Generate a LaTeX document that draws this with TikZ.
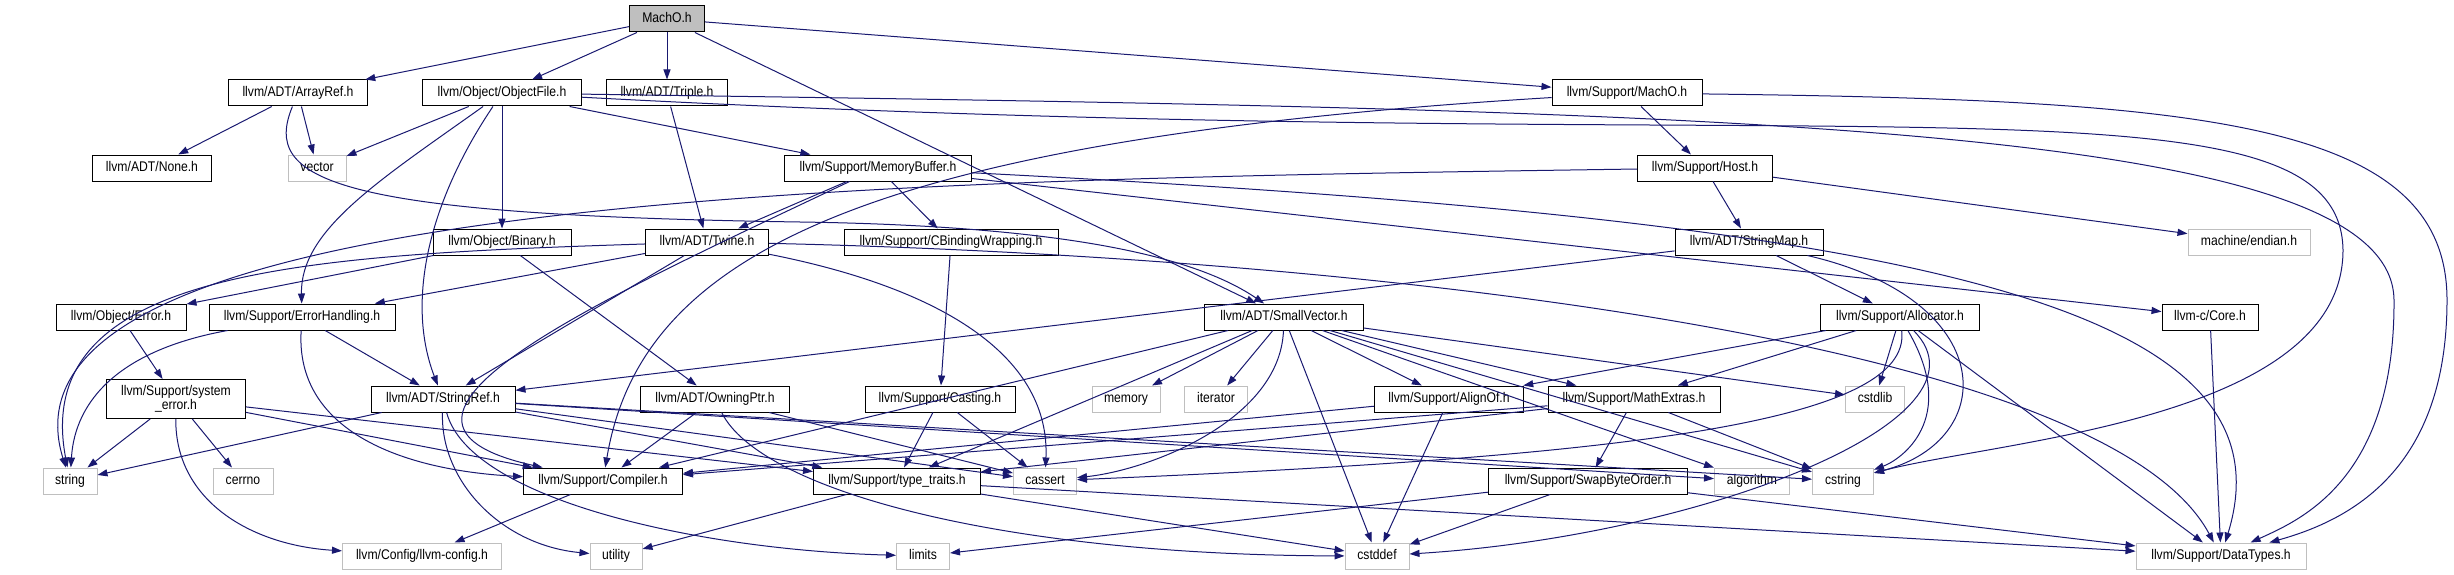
\documentclass[tikz,border=0pt]{standalone}
\usepackage{fontspec}
\setmainfont{Liberation Sans}[FakeStretch=0.87]
\usepackage{xcolor}
\usetikzlibrary{arrows.meta}
\definecolor{edgeblue}{HTML}{191970}
\definecolor{sysgray}{HTML}{BFBFBF}

\begin{document}
\begin{tikzpicture}[x=1pt, y=-1pt, font=\fontsize{14}{15}\selectfont,
  hdr/.style={draw=black, line width=1pt, inner xsep=0pt, minimum height=26pt, text height=10pt, text depth=3pt},
  sys/.style={hdr, draw=sysgray},
  dep/.style={draw=edgeblue, line width=1pt, -{Triangle[length=10pt,width=7pt]}}]
  \useasboundingbox (0,0) rectangle (2454,575);
  \node[hdr, fill=sysgray, minimum width=75pt] (macho) at (667,19) {MachO.h};
  \node[hdr, minimum width=139pt] (arrayref) at (298,93) {llvm/ADT/ArrayRef.h};
  \node[hdr, minimum width=159pt] (objectfile) at (502,93) {llvm/Object/ObjectFile.h};
  \node[hdr, minimum width=121pt] (triple) at (667,93) {llvm/ADT/Triple.h};
  \node[hdr, minimum width=150pt] (supmacho) at (1627,93) {llvm/Support/MachO.h};
  \node[hdr, minimum width=119pt] (none) at (152,168) {llvm/ADT/None.h};
  \node[sys, minimum width=58pt] (vector) at (317,168) {vector};
  \node[hdr, minimum width=187pt] (membuf) at (878,168) {llvm/Support/MemoryBuffer.h};
  \node[hdr, minimum width=135pt] (host) at (1705,168) {llvm/Support/Host.h};
  \node[hdr, minimum width=138pt] (binary) at (502,242) {llvm/Object/Binary.h};
  \node[hdr, minimum width=123pt] (twine) at (707,242) {llvm/ADT/Twine.h};
  \node[hdr, minimum width=214pt] (cbinding) at (951,242) {llvm/Support/CBindingWrapping.h};
  \node[hdr, minimum width=148pt] (stringmap) at (1749,242) {llvm/ADT/StringMap.h};
  \node[sys, minimum width=122pt] (endian) at (2249,242) {machine/endian.h};
  \node[hdr, minimum width=130pt] (objerror) at (121,317) {llvm/Object/Error.h};
  \node[hdr, minimum width=186pt] (errhandling) at (302,317) {llvm/Support/ErrorHandling.h};
  \node[hdr, minimum width=159pt] (smallvector) at (1284,317) {llvm/ADT/SmallVector.h};
  \node[hdr, minimum width=159pt] (allocator) at (1900,317) {llvm/Support/Allocator.h};
  \node[hdr, minimum width=96pt] (core) at (2210,317) {llvm-c/Core.h};
  \node[hdr, minimum width=139pt, minimum height=39pt, text height={}, text depth={}, align=center, inner ysep=1pt, font=\fontsize{14}{14.5}\selectfont] (syserror) at (176,399) {llvm/Support/system\\\_error.h};
  \node[hdr, minimum width=144pt] (stringref) at (443,399) {llvm/ADT/StringRef.h};
  \node[hdr, minimum width=149pt] (owningptr) at (715,399) {llvm/ADT/OwningPtr.h};
  \node[hdr, minimum width=150pt] (casting) at (940,399) {llvm/Support/Casting.h};
  \node[sys, minimum width=68pt] (memory) at (1126,399) {memory};
  \node[sys, minimum width=63pt] (iterator) at (1216,399) {iterator};
  \node[hdr, minimum width=149pt] (alignof) at (1449,399) {llvm/Support/AlignOf.h};
  \node[hdr, minimum width=172pt] (mathextras) at (1634,399) {llvm/Support/MathExtras.h};
  \node[sys, minimum width=59pt] (cstdlib) at (1875,399) {cstdlib};
  \node[sys, minimum width=54pt] (string) at (70,481) {string};
  \node[sys, minimum width=60pt] (cerrno) at (243,481) {cerrno};
  \node[hdr, minimum width=159pt] (compiler) at (603,481) {llvm/Support/Compiler.h};
  \node[hdr, minimum width=167pt] (typetraits) at (897,481) {llvm/Support/type\_traits.h};
  \node[sys, minimum width=63pt] (cassert) at (1045,481) {cassert};
  \node[hdr, minimum width=199pt] (swapbyte) at (1588,481) {llvm/Support/SwapByteOrder.h};
  \node[sys, minimum width=75pt] (algorithm) at (1752,481) {algorithm};
  \node[sys, minimum width=61pt] (cstring) at (1843,481) {cstring};
  \node[sys, minimum width=159pt] (llvmconfig) at (422,556) {llvm/Config/llvm-config.h};
  \node[sys, minimum width=52pt] (utility) at (616,556) {utility};
  \node[sys, minimum width=53pt] (limits) at (923,556) {limits};
  \node[sys, minimum width=64pt] (cstddef) at (1377,556) {cstddef};
  \node[sys, minimum width=170pt] (datatypes) at (2221,556) {llvm/Support/DataTypes.h};

  \foreach \a/\b in {macho/arrayref, macho/objectfile, macho/triple, macho/supmacho, macho/smallvector,
      arrayref/none, arrayref/vector, objectfile/vector, objectfile/binary, objectfile/membuf,
      triple/twine, supmacho/host, host/stringmap, host/endian,
      membuf/twine, membuf/cbinding, membuf/core, binary/objerror, binary/owningptr,
      twine/stringref, twine/errhandling, objerror/syserror, errhandling/stringref,
      syserror/string, syserror/cerrno, syserror/compiler, syserror/typetraits,
      stringref/string, stringref/typetraits, stringref/cassert, stringref/algorithm, stringref/cstring,
      owningptr/compiler, owningptr/cassert, cbinding/casting, casting/typetraits, casting/cassert,
      stringmap/stringref, stringmap/allocator,
      smallvector/memory, smallvector/iterator, smallvector/alignof, smallvector/mathextras,
      smallvector/cstdlib, smallvector/cstddef, smallvector/compiler, smallvector/typetraits,
      smallvector/algorithm, smallvector/cstring,
      allocator/alignof, allocator/mathextras, allocator/cstdlib, allocator/datatypes,
      alignof/compiler, alignof/cstddef, mathextras/compiler, mathextras/swapbyte,
      mathextras/cstring, mathextras/typetraits,
      swapbyte/limits, swapbyte/cstddef, swapbyte/datatypes,
      typetraits/utility, typetraits/cstddef, typetraits/datatypes,
      compiler/llvmconfig, core/datatypes}
    { \draw[dep] (\a) -- (\b); }

  \draw[dep] (arrayref) .. controls (262,180) and (330,215) .. (800,222) .. controls (1080,226) and (1200,260) .. (smallvector);
  \draw[dep] (objectfile) .. controls (380,180) and (300,230) .. (errhandling);
  \draw[dep] (objectfile) .. controls (430,200) and (405,300) .. (stringref);
  \draw[dep] (objectfile) .. controls (1850,165) and (2340,60) .. (2343,250) .. controls (2343,420) and (2000,440) .. (cstring);
  \draw[dep] (objectfile) .. controls (1700,110) and (2392,120) .. (2394,300) .. controls (2395,480) and (2300,520) .. (datatypes);
  \draw[dep] (supmacho) .. controls (850,140) and (640,260) .. (compiler);
  \draw[dep] (supmacho) .. controls (2200,100) and (2447,120) .. (2447,300) .. controls (2447,470) and (2350,520) .. (datatypes);
  \draw[dep] (host) .. controls (900,180) and (-20,190) .. (string);
  \draw[dep] (membuf) .. controls (600,300) and (330,420) .. (compiler);
  \draw[dep] (membuf) .. controls (1900,220) and (2300,300) .. (datatypes);
  \draw[dep] (twine) .. controls (300,255) and (30,270) .. (string);
  \draw[dep] (twine) .. controls (950,290) and (1050,360) .. (cassert);
  \draw[dep] (twine) .. controls (1300,255) and (2100,330) .. (datatypes);
  \draw[dep] (errhandling) .. controls (120,350) and (75,400) .. (string);
  \draw[dep] (errhandling) .. controls (295,430) and (400,470) .. (compiler);
  \draw[dep] (syserror) .. controls (175,500) and (250,545) .. (llvmconfig);
  \draw[dep] (stringref) .. controls (440,480) and (500,545) .. (utility);
  \draw[dep] (stringref) .. controls (470,500) and (700,550) .. (limits);
  \draw[dep] (owningptr) .. controls (760,490) and (1000,555) .. (cstddef);
  \draw[dep] (smallvector) .. controls (1280,420) and (1150,470) .. (cassert);
  \draw[dep] (stringmap) .. controls (2000,300) and (2000,440) .. (cstring);
  \draw[dep] (allocator) .. controls (1913,423) and (1620,457) .. (cassert);
  \draw[dep] (allocator) .. controls (1960,420) and (1900,460) .. (cstring);
  \draw[dep] (allocator) .. controls (2003,420) and (1700,536) .. (cstddef);
\end{tikzpicture}
\end{document}
